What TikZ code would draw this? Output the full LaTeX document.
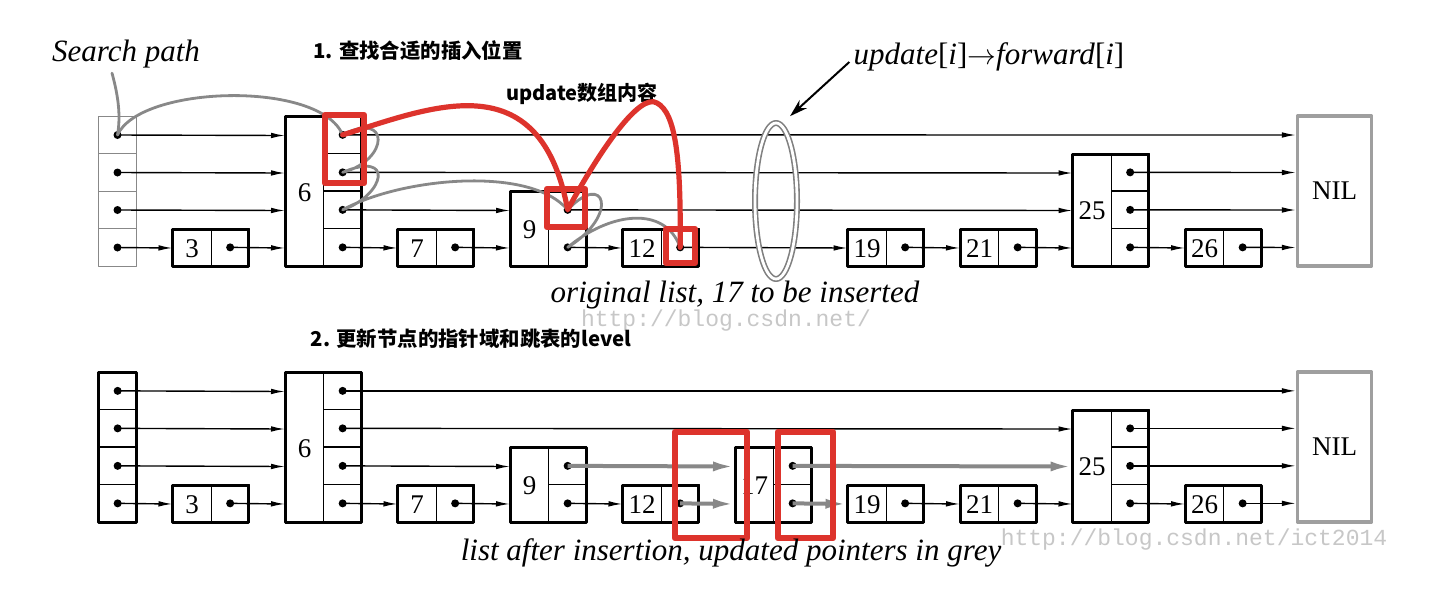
\documentclass[tikz,border=0pt]{standalone}
\usepackage{fontspec}
\setmainfont{Liberation Serif}
\newfontfamily\cjk{Noto Sans CJK SC}
\newfontfamily\wmfont{Liberation Mono}
\usetikzlibrary{arrows.meta,shapes.geometric}

\definecolor{hilite}{RGB}{221,51,44}
\definecolor{pathgrey}{RGB}{136,136,136}

\tikzset{
  keycell/.style={draw, line width=0.65pt, inner sep=0pt, minimum width=19pt,
    font=\fontsize{13.5}{14}\selectfont},
  ptrcell/.style={draw, line width=0.65pt, inner sep=0pt, minimum width=19pt,
    minimum height=18.75pt},
  nodeframe/.style={line width=1.5pt},
  nilbox/.style={draw=gray!75, line width=1.6pt, minimum width=37pt, minimum height=75pt,
    font=\fontsize{13.5}{14}\selectfont},
  link/.style={line width=0.7pt, -{Latex[length=7pt,width=2.8pt]}},
  newlink/.style={line width=2pt, pathgrey, -{Latex[length=11pt,width=5pt]}},
  search/.style={line width=1.4pt, pathgrey, line cap=round},
  redbox/.style={line width=3.2pt, hilite},
  redpath/.style={line width=2.6pt, hilite, line cap=round, line join=round},
  caption/.style={font=\fontsize{15.5}{18}\selectfont\itshape},
  cnlabel/.style={font=\cjk\bfseries\fontsize{10.2}{12}\selectfont},
  watermark/.style={font=\wmfont\fontsize{11.5}{13}\selectfont, black!22}
}

% one list node: [frame style]{name}{slot}{levels}{key}{y of lowest row}
\newcommand\listnode[6][]{%
  \pgfmathsetmacro\xl{60+112.5*#3}%
  \pgfmathsetmacro\hh{18.75*#4}%
  \pgfmathsetmacro\yt{#6+18.75-37.5*#4}%
  \node[keycell, minimum height=\hh pt, anchor=north west] (#2) at (\xl,\yt) {#5};
  \foreach \i in {1,...,#4}{
    \node[ptrcell, anchor=south west] (#2-\i) at (\xl+38,#6+56.25-37.5*\i) {};
    \coordinate (#2-in\i) at (\xl,#6+37.5-37.5*\i);
    \fill (#2-\i) circle (2pt);
  }
  \draw[nodeframe,#1] (\xl,\yt) rectangle (\xl+76,#6+18.75);
}

\begin{document}
\begin{tikzpicture}[x=0.5pt, y=-0.5pt, line join=round]
  \useasboundingbox (0,0) rectangle (1450,601);
  \fill[white] (0,0) rectangle (1450,601);

  % watermarks
  \node[watermark, inner sep=0pt] (wm1) at (726,321) {http://blog.csdn.net/};
  \node[watermark] (wm2) at (1194,540) {http://blog.csdn.net/ict2014};

  % ---- original list ----
  \foreach \i in {1,...,4}{
    \node[ptrcell, draw=pathgrey, line width=0.5pt, anchor=south west] (th-\i) at (98,304.25-37.5*\i) {};
    \fill (th-\i) circle (2pt);
  }
  \foreach \nm/\s/\lv/\key in {t3/1/1/3, t6/2/4/6, t7/3/1/7, t9/4/2/9, t12/5/1/12,
      t19/7/1/19, t21/8/1/21, t25/9/3/25, t26/10/1/26}
    {\listnode{\nm}{\s}{\lv}{\key}{248}}
  \node[nilbox] (tnil) at (1334.5,191) {NIL};
  \foreach \i in {1,...,4}
    \coordinate (tnil-in\i) at (tnil.west |- th-\i);

  \foreach \a/\b in {th-4/t6-in4, th-3/t6-in3, th-2/t6-in2, th-1/t3-in1, t3-1/t6-in1,
      t6-4/tnil-in4, t6-3/t25-in3, t6-2/t9-in2, t6-1/t7-in1, t7-1/t9-in1,
      t9-2/t25-in2, t9-1/t12-in1, t12-1/t19-in1, t19-1/t21-in1, t21-1/t25-in1,
      t25-3/tnil-in3, t25-2/tnil-in2, t25-1/t26-in1, t26-1/tnil-in1}
    \draw[link] (\a.center) -- (\b);

  % the ring and its label
  \node[ellipse, draw=gray, double=white, double distance=1.4pt, line width=0.8pt,
    minimum width=21pt, minimum height=78pt, inner sep=0pt] (ring) at (776,201) {};
  \node[caption, inner sep=2pt] (fwd) at (989,57)
    {update\textup{[}i\textup{]}$\rightarrow$forward\textup{[}i\textup{]}};
  \draw[line width=1pt, -{Stealth[length=9pt,width=5.5pt]}]
    ([yshift=-2.5pt]fwd.west) -- ([shift={(14,-6)}]ring.north);

  % search path
  \node[caption] (spath) at (126,54) {Search path};
  \draw[search] ([xshift=-7pt,yshift=1pt]spath.south) .. controls (118,95) and (121,115) .. (th-4.center)
    .. controls (140,85) and (320,80) .. (t6-4.center)
    .. controls (390,110) and (390,160) .. (t6-3.center)
    .. controls (395,150) and (385,195) .. (t6-2.center)
    .. controls (400,178) and (530,165) .. (t9-2.center)
    .. controls (605,170) and (620,215) .. (t9-1.center)
    .. controls (610,212) and (665,205) .. (t12-1.center);

  \node[caption, inner sep=1pt] (orig) at (735,295) {original list, 17 to be inserted};

  % step 1 marks
  \node[cnlabel] (step1) at (418,51) {1. 查找合适的插入位置};
  \node[cnlabel, font=\cjk\bfseries\fontsize{10}{12}\selectfont] (upd) at (582,94) {update数组内容};
  \draw[redbox] (325,115) rectangle (364,183);
  \draw[redbox] (547,189) rectangle (585,227);
  \draw[redbox] (666,229) rectangle (695,263);
  \draw[redpath] (t6-4.center) .. controls (430,108) and (540,60) .. (t9-2.center)
    .. controls (600,150) and (640,92) .. (657,103)
    .. controls (676,113) and (681,160) .. (t12-1.center);

  % ---- list after insertion ----
  \node[cnlabel] (step2) at (471,339) {2. 更新节点的指针域和跳表的level};
  \foreach \i in {1,...,4}{
    \node[ptrcell, anchor=south west] (bh-\i) at (98,560.25-37.5*\i) {};
    \fill (bh-\i) circle (2pt);
  }
  \draw[nodeframe] (98,372.75) rectangle (136,522.75);
  \foreach \nm/\s/\lv/\key in {b3/1/1/3, b6/2/4/6, b7/3/1/7, b9/4/2/9, b12/5/1/12,
      b17/6/2/17, b19/7/1/19, b21/8/1/21, b25/9/3/25, b26/10/1/26}
    {\listnode{\nm}{\s}{\lv}{\key}{504}}
  \node[nilbox] (bnil) at (1334.5,447) {NIL};
  \foreach \i in {1,...,4}
    \coordinate (bnil-in\i) at (bnil.west |- bh-\i);

  \foreach \a/\b in {bh-4/b6-in4, bh-3/b6-in3, bh-2/b6-in2, bh-1/b3-in1, b3-1/b6-in1,
      b6-4/bnil-in4, b6-3/b25-in3, b6-2/b9-in2, b6-1/b7-in1, b7-1/b9-in1,
      b9-1/b12-in1, b19-1/b21-in1, b21-1/b25-in1,
      b25-3/bnil-in3, b25-2/bnil-in2, b25-1/b26-in1, b26-1/bnil-in1}
    \draw[link] (\a.center) -- (\b);
  % updated pointers
  \foreach \a/\b in {b9-2/b17-in2, b12-1/b17-in1, b17-2/b25-in2, b17-1/b19-in1}
    \draw[newlink] (\a.center) -- (\b);

  \draw[redbox] (675,432) rectangle (747,538);
  \draw[redbox] (778,432) rectangle (833,538);

  \node[caption] (after) at (731,553) {list after insertion, updated pointers in grey};
\end{tikzpicture}
\end{document}
